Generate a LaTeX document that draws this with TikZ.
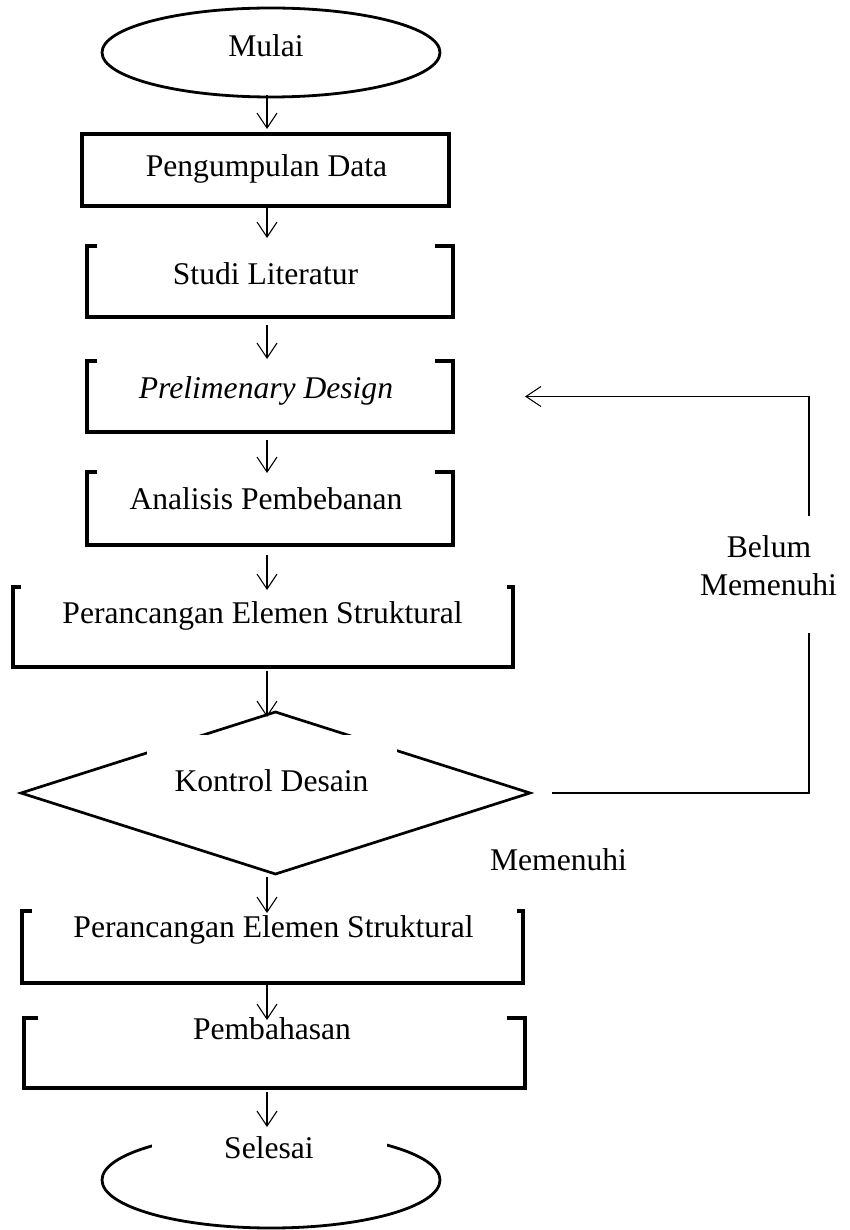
\documentclass[tikz,border=0pt]{standalone}
\usepackage{fontspec}
\setmainfont{Liberation Serif}
\usetikzlibrary{arrows.meta,shapes.geometric}
\begin{document}
\begin{tikzpicture}[x=1pt,y=-1pt,
  every node/.style={inner sep=0pt,outer sep=0pt},
  lbl/.style={anchor=base,font=\fontsize{31.6}{38}\selectfont},
  boxline/.style={line width=3.2pt,line join=miter},
  ovalline/.style={draw,ellipse,line width=2.8pt},
  dline/.style={line width=2.7pt,line join=miter},
  arr/.style={line width=1.1pt,-{Straight Barb[length=15pt,width=20pt,line width=1.1pt]}},
  flow/.style={line width=1.1pt},
  cover/.style={fill=white,draw=none}]
\useasboundingbox (0,0) rectangle (850,1230);

% shapes
\node[ovalline,minimum width=338,minimum height=89] (mulai) at (271,52.5) {};
\node[draw,boxline,minimum width=367,minimum height=72] (peng) at (265.5,170) {};

\node[minimum width=366,minimum height=71] (studi) at (270,281.5) {};
\node[minimum width=366,minimum height=71] (prelim) at (270,396.5) {};
\node[minimum width=366,minimum height=73] (anal) at (270,508.5) {};
\node[minimum width=500,minimum height=80] (pes1) at (263,627) {};
\node[minimum width=509,minimum height=162] (kd) at (275.5,793) {};
\node[minimum width=501,minimum height=72] (pes2) at (272.5,947) {};
\node[minimum width=501,minimum height=70] (pemb) at (274.5,1053) {};
\node[ovalline,minimum width=338,minimum height=96] (sel) at (271,1180) {};

\draw[boxline] ([xshift=10]studi.north west) -- (studi.north west) -- (studi.south west) -- (studi.south east) -- (studi.north east) -- ([xshift=-18]studi.north east);
\draw[boxline] ([xshift=10]prelim.north west) -- (prelim.north west) -- (prelim.south west) -- (prelim.south east) -- (prelim.north east) -- ([xshift=-18]prelim.north east);
\draw[boxline] ([xshift=10]anal.north west) -- (anal.north west) -- (anal.south west) -- (anal.south east) -- (anal.north east) -- ([xshift=-18]anal.north east);
\draw[boxline] ([xshift=8]pes1.north west) -- (pes1.north west) -- (pes1.south west) -- (pes1.south east) -- (pes1.north east) -- ([xshift=-6]pes1.north east);
\draw[boxline] ([xshift=10]pes2.north west) -- (pes2.north west) -- (pes2.south west) -- (pes2.south east) -- (pes2.north east) -- ([xshift=-6]pes2.north east);
\draw[boxline] ([xshift=14]pemb.north west) -- (pemb.north west) -- (pemb.south west) -- (pemb.south east) -- (pemb.north east) -- ([xshift=-18]pemb.north east);

\draw[dline] (kd.north) -- (kd.east) -- (kd.south) -- (kd.west) -- cycle;

% white text boxes covering parts of outlines
\fill[cover] (147,735) rectangle (397,812);
\fill[cover] (152,1128) rectangle (387,1158);

% connectors
\coordinate (col) at (267,0);
\draw[arr,shorten <=-2pt,shorten >=5pt] (mulai.south -| col) -- (peng.north -| col);
\draw[arr,shorten <=1pt,shorten >=8pt] (peng.south -| col) -- (studi.north -| col);
\draw[arr,shorten <=8pt,shorten >=2pt] (studi.south -| col) -- (prelim.north -| col);
\draw[arr,shorten <=8pt,shorten >=-1pt] (prelim.south -| col) -- (anal.north -| col);
\draw[arr,shorten <=10pt,shorten >=-3pt] (anal.south -| col) -- (pes1.north -| col);
\draw[arr,shorten <=4pt,shorten >=-5pt] (pes1.south -| col) -- (kd.north -| col);
\draw[arr,shorten <=3pt,shorten >=-2pt] (kd.south -| col) -- (pes2.north -| col);
\draw[arr,shorten <=0pt,shorten >=-2pt] (pes2.south -| col) -- (pemb.north -| col);
\draw[arr,shorten <=4pt,shorten >=5pt] (pemb.south -| col) -- (sel.north -| col);

\coordinate (fbA) at (809,633);
\coordinate (fbB) at (809,516);
\draw[flow] ([xshift=22]kd.east) -| (fbA);
\draw[arr] (fbB) |- ([xshift=72]prelim.east);

% texts
\node[lbl] (tMulai) at (266,57) {Mulai};
\node[lbl] (tPeng) at (266.5,177) {Pengumpulan Data};
\node[lbl] (tStudi) at (265.5,284) {Studi Literatur};
\node[lbl] (tPrel) at (266,398) {\itshape Prelimenary Design};
\node[lbl] (tAnal) at (266,509) {Analisis Pembebanan};
\node[lbl] (tPes1) at (262.5,623) {Perancangan Elemen Struktural};
\node[lbl] (tKd) at (271.5,791) {Kontrol Desain};
\node[lbl] (tPes2) at (273.5,937) {Perancangan Elemen Struktural};
\node[lbl] (tPemb) at (272,1039) {Pembahasan};
\node[lbl] (tSel) at (269,1158) {Selesai};
\node[lbl] (tBel1) at (769,557) {Belum};
\node[lbl] (tBel2) at (768.5,595) {Memenuhi};
\node[lbl] (tMem) at (558.5,870) {Memenuhi};
\end{tikzpicture}
\end{document}
